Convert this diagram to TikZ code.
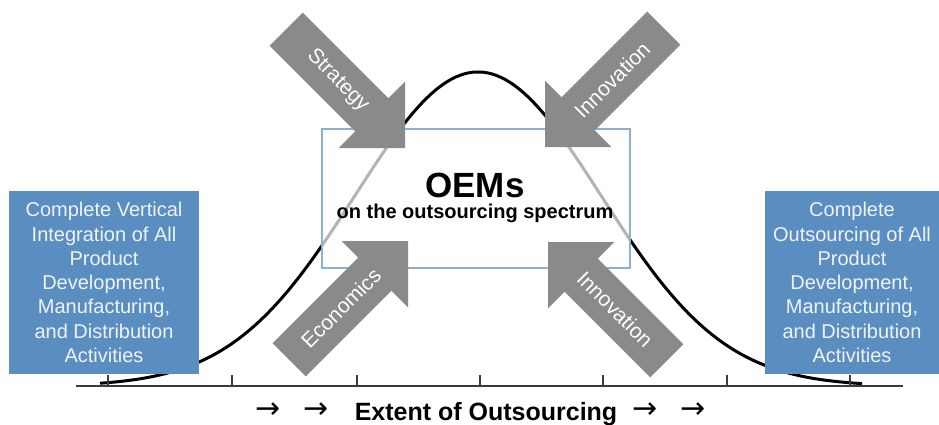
\documentclass[tikz,border=0pt]{standalone}
\usepackage{fontspec}
\setmainfont{Liberation Sans}
\newfontfamily\arrowfont{DejaVu Sans}
\definecolor{boxblue}{RGB}{91,142,192}
\definecolor{arrowgray}{RGB}{138,138,138}
\definecolor{rectline}{RGB}{140,175,210}
\definecolor{boxtext}{RGB}{238,243,249}
\definecolor{axisgray}{RGB}{60,60,60}
\newcommand\fatarrow[5]{%
  \begin{scope}[shift={#2}, rotate=#3]
    \fill[arrowgray] (0pt,0pt) -- (-47pt,47pt) -- (-47pt,23.5pt) -- (-168pt,23.5pt)
      -- (-168pt,-23.5pt) -- (-47pt,-23.5pt) -- (-47pt,-47pt) -- cycle;
    \node[arrowlabel, transform shape, rotate=#5] (#1) at (-95pt,0pt) {#4};
  \end{scope}}
\begin{document}
\begin{tikzpicture}[x=1pt,y=-1pt,
  sidebox/.style={fill=boxblue, draw=none, inner sep=0pt, text=boxtext, align=center,
    font=\fontsize{20}{24.3}\selectfont},
  arrowlabel/.style={text=white, inner sep=0pt, font=\fontsize{21}{24}\selectfont},
  oemrect/.style={fill=white, fill opacity=0.7, draw=rectline, draw opacity=1, line width=1.2pt},
  curve/.style={line width=3pt, black},
  axisline/.style={line width=2pt, axisgray},
  tickline/.style={line width=1.5pt, axisgray},
  bottomtext/.style={inner sep=0pt, font=\bfseries\fontsize{25}{28}\selectfont},
  arrowtext/.style={inner sep=0pt, anchor=base, font=\arrowfont\fontsize{30}{32}\selectfont}]
\useasboundingbox (0,0) rectangle (939,425);
% bell curve
\draw[curve] plot[domain=100:862, samples=140, smooth] (\x, {386-314*exp(-0.5*((\x-478)/123)^2)});
% axis
\coordinate (axL) at (76,386);
\coordinate (axR) at (903,386);
\draw[axisline] (axL) -- (axR);
\foreach \t in {108,232,357,480,603,727,850} \draw[tickline] (\t,375) -- (\t,386);
% central rectangle
\node[oemrect, minimum width=308pt, minimum height=139pt, inner sep=0pt] (R) at (476,198.5) {};
\node[inner sep=0pt, anchor=base, font=\bfseries\fontsize{35}{38}\selectfont] (oem) at (475,197) {OEMs};
\node[inner sep=0pt, anchor=base, font=\bfseries\fontsize{20}{22}\selectfont] (oemsub) at (475,218) {on the outsourcing spectrum};
% side boxes
\node[sidebox, minimum width=190pt, minimum height=183pt] (L) at (104,282.5)
  {Complete Vertical\\Integration of All\\Product\\Development,\\Manufacturing,\\and Distribution\\Activities};
\node[sidebox, minimum width=174pt, minimum height=183pt] (Rb) at (852,282.5)
  {Complete\\Outsourcing of All\\Product\\Development,\\Manufacturing,\\and Distribution\\Activities};
% block arrows
\fatarrow{strat}{(405,148)}{-45}{Strategy}{0}
\fatarrow{innotop}{(545,147)}{-135}{Innovation}{180}
\fatarrow{econ}{(408,241)}{45}{Economics}{0}
\fatarrow{innobot}{(548,242)}{135}{Innovation}{180}
% bottom label
\node[arrowtext] (a1) at (268,418) {→};
\node[arrowtext] (a2) at (316,418) {→};
\node[bottomtext, anchor=base] (ext) at (486,420) {Extent of Outsourcing};
\node[arrowtext] (a3) at (645,418) {→};
\node[arrowtext] (a4) at (693,418) {→};
\end{tikzpicture}
\end{document}
